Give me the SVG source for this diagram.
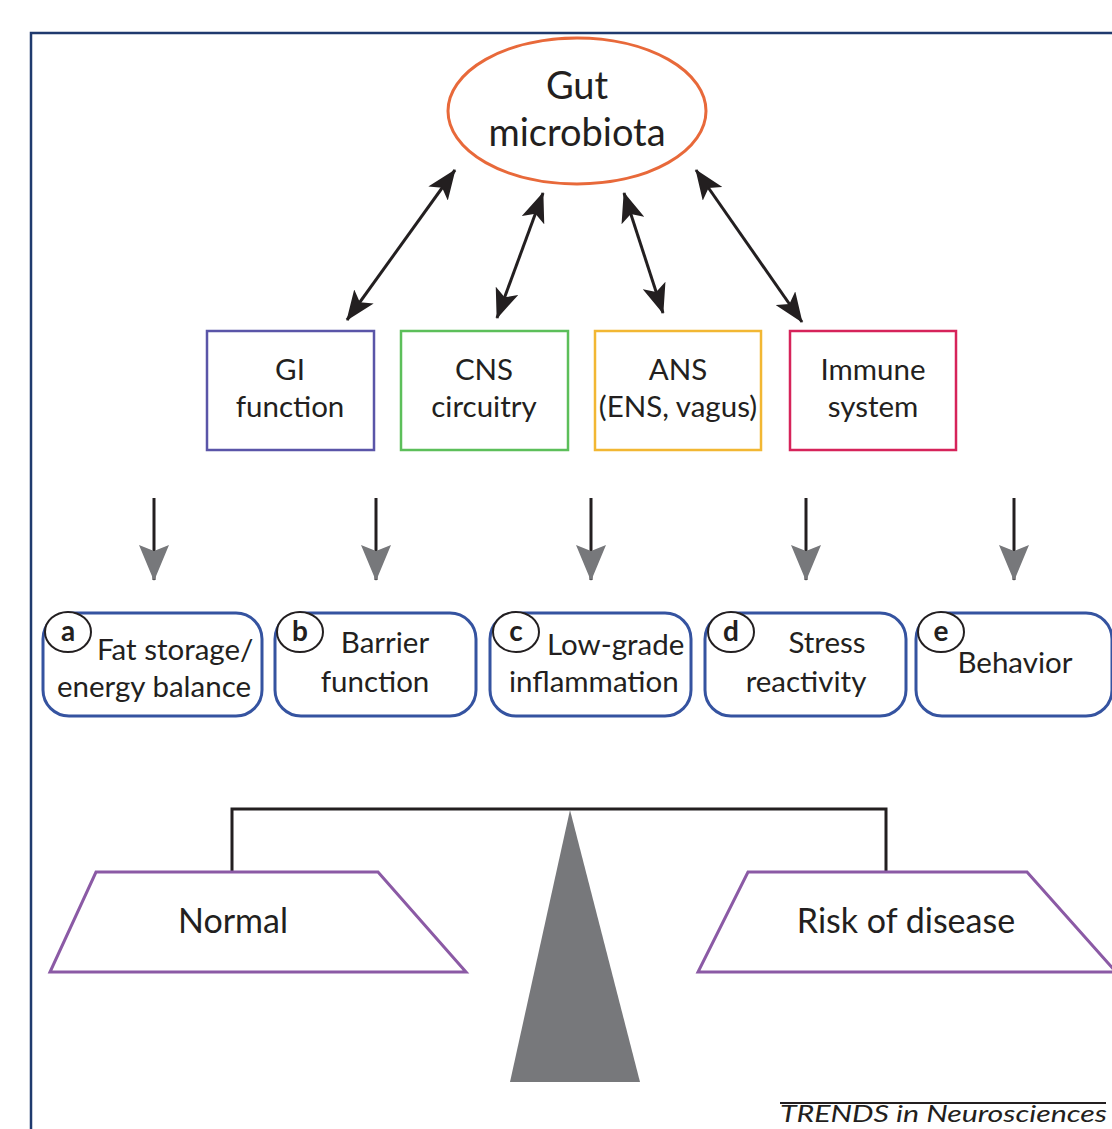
<svg xmlns="http://www.w3.org/2000/svg" width="1112" height="1129" viewBox="0 0 1112 1129">
<style>
  text { font-family: Lato, "Open Sans", "Liberation Sans", sans-serif; fill: #231f20; }
  .t27 { font-size: 29.5px; text-anchor: middle; }
  .lt { font-size: 29.5px; }
  .big { font-size: 38px; text-anchor: middle; }
  .bal { font-size: 34px; text-anchor: middle; }
  .sq { fill: #fff; stroke-width: 2.5; }
  .rb { fill: #fff; stroke: #3553a0; stroke-width: 3; }
  .circ { fill: #fff; stroke: #231f20; stroke-width: 2; }
  .letter { font-size: 28px; font-weight: bold; text-anchor: middle; }
  .blk { stroke: #231f20; stroke-width: 3; fill: none; }
  .trap { fill: #fff; stroke: #8b5aa5; stroke-width: 3; }
</style>
<defs>
  <marker id="ah" viewBox="0 0 30 24" refX="29" refY="12" markerWidth="30" markerHeight="24" markerUnits="userSpaceOnUse" orient="auto-start-reverse">
    <path d="M0,0 L30,12 L0,24 L7,12 z" fill="#231f20"/>
  </marker>
  <marker id="gh" viewBox="0 0 36 30" refX="35" refY="15" markerWidth="36" markerHeight="30" markerUnits="userSpaceOnUse" orient="auto">
    <path d="M0,0 L36,15 L0,30 L6,15 z" fill="#77787b"/>
  </marker>
</defs>
<rect width="1112" height="1129" fill="#fff"/>
<path d="M31,1129 V33 H1112" fill="none" stroke="#1f3a6e" stroke-width="2.5"/>

<g id="gut">
  <ellipse cx="577" cy="111" rx="129" ry="73" fill="#fff" stroke="#e8693a" stroke-width="3"/>
  <text class="big" x="577" y="99">Gut</text>
  <text class="big" x="577" y="146">microbiota</text>
</g>

<g id="gi">
  <rect class="sq" x="207" y="331" width="167" height="119" stroke="#5a55a8"/>
  <text class="t27" x="290" y="380">GI</text>
  <text class="t27" x="290" y="417">function</text>
</g>
<g id="cns">
  <rect class="sq" x="401" y="331" width="167" height="119" stroke="#5cbf5a"/>
  <text class="t27" x="484" y="380">CNS</text>
  <text class="t27" x="484" y="417">circuitry</text>
</g>
<g id="ans">
  <rect class="sq" x="595" y="331" width="166" height="119" stroke="#f2b733"/>
  <text class="t27" x="678" y="380">ANS</text>
  <text class="t27" x="678" y="417">(ENS, vagus)</text>
</g>
<g id="immune">
  <rect class="sq" x="790" y="331" width="166" height="119" stroke="#d6235a"/>
  <text class="t27" x="873" y="380">Immune</text>
  <text class="t27" x="873" y="417">system</text>
</g>

<g id="connectors">
  <line class="blk" x1="347" y1="320" x2="455" y2="170" marker-start="url(#ah)" marker-end="url(#ah)"/>
  <line class="blk" x1="497" y1="318" x2="543" y2="193" marker-start="url(#ah)" marker-end="url(#ah)"/>
  <line class="blk" x1="663" y1="313" x2="624" y2="193" marker-start="url(#ah)" marker-end="url(#ah)"/>
  <line class="blk" x1="802" y1="322" x2="696" y2="170" marker-start="url(#ah)" marker-end="url(#ah)"/>
  <line class="blk" x1="154" y1="498" x2="154" y2="580" marker-end="url(#gh)"/>
  <line class="blk" x1="376" y1="498" x2="376" y2="580" marker-end="url(#gh)"/>
  <line class="blk" x1="591" y1="498" x2="591" y2="580" marker-end="url(#gh)"/>
  <line class="blk" x1="806" y1="498" x2="806" y2="580" marker-end="url(#gh)"/>
  <line class="blk" x1="1014" y1="498" x2="1014" y2="580" marker-end="url(#gh)"/>
</g>

<g id="a">
  <rect class="rb" x="43" y="613" width="219" height="103" rx="26"/>
  <ellipse class="circ" cx="68" cy="632" rx="23" ry="20"/>
  <text class="letter" x="68" y="641">a</text>
  <text class="lt" x="97" y="660">Fat storage/</text>
  <text class="lt" x="57" y="697">energy balance</text>
</g>
<g id="b">
  <rect class="rb" x="275" y="613" width="201" height="103" rx="26"/>
  <ellipse class="circ" cx="300" cy="632" rx="23" ry="20"/>
  <text class="letter" x="300" y="641">b</text>
  <text class="t27" x="385" y="653">Barrier</text>
  <text class="t27" x="375" y="692">function</text>
</g>
<g id="c">
  <rect class="rb" x="490" y="613" width="201" height="103" rx="26"/>
  <ellipse class="circ" cx="516" cy="632" rx="23" ry="20"/>
  <text class="letter" x="516" y="641">c</text>
  <text class="lt" x="547" y="655">Low-grade</text>
  <text class="lt" x="509" y="692">inflammation</text>
</g>
<g id="d">
  <rect class="rb" x="705" y="613" width="201" height="103" rx="26"/>
  <ellipse class="circ" cx="731" cy="632" rx="23" ry="20"/>
  <text class="letter" x="731" y="641">d</text>
  <text class="t27" x="827" y="653">Stress</text>
  <text class="t27" x="806" y="692">reactivity</text>
</g>
<g id="e">
  <rect class="rb" x="916" y="613" width="196" height="103" rx="26"/>
  <ellipse class="circ" cx="941" cy="632" rx="23" ry="20"/>
  <text class="letter" x="941" y="641">e</text>
  <text class="t27" x="1015" y="673">Behavior</text>
</g>

<g id="balance">
  <path class="blk" d="M232,872 V809 H886 V872"/>
  <polygon points="570,810 640,1082 510,1082" fill="#77787b"/>
</g>
<g id="normal">
  <polygon class="trap" points="96,872 378,872 466,972 50,972"/>
  <text class="bal" x="233" y="933">Normal</text>
</g>
<g id="risk">
  <polygon class="trap" points="748,872 1027,872 1116,972 698,972"/>
  <text class="bal" x="906" y="933">Risk of disease</text>
</g>

<g id="footer">
  <line x1="780" y1="1103" x2="1106" y2="1103" stroke="#231f20" stroke-width="2"/>
  <text x="780" y="1122" font-family="'Liberation Sans', Arial, sans-serif" font-style="italic" font-size="23" textLength="327" lengthAdjust="spacingAndGlyphs">TRENDS in Neurosciences</text>
</g>
</svg>
